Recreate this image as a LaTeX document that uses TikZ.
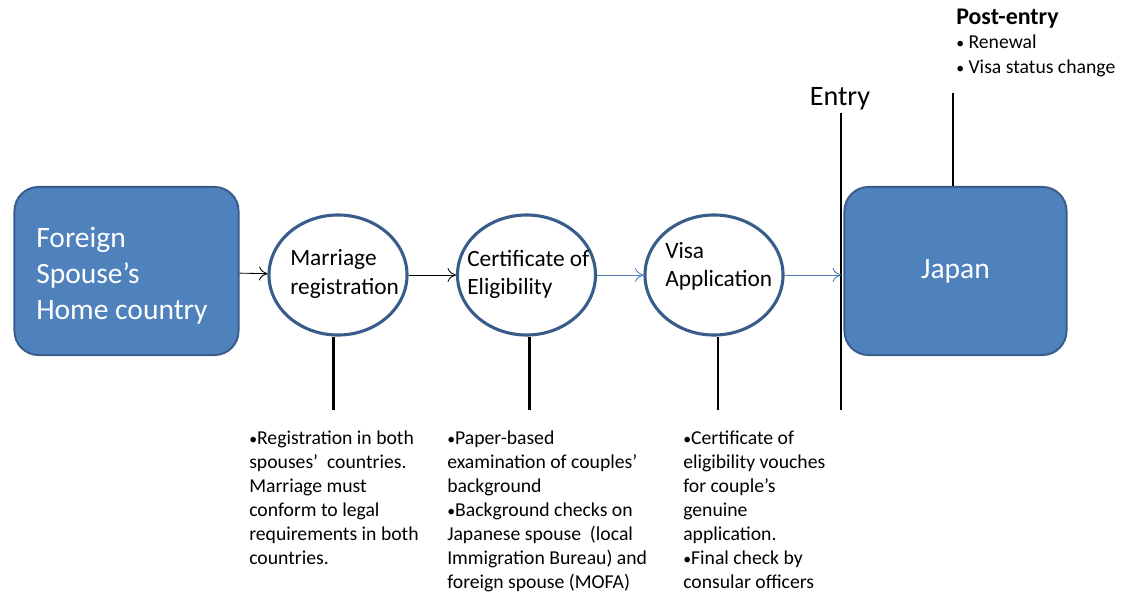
\documentclass[tikz,border=0pt]{standalone}
\usepackage{fontspec}
\setmainfont{Carlito}
\usetikzlibrary{shapes,arrows.meta,positioning}
\definecolor{boxblue}{RGB}{79,129,189}
\definecolor{edgeblue}{RGB}{56,93,138}
\definecolor{flowblue}{RGB}{74,126,187}
\newcommand{\smallbullet}{\scalebox{0.8}{•}}

\begin{document}
\begin{tikzpicture}[
    x=0.025cm, y=-0.025cm,
    place/.style={rectangle, draw=edgeblue, line width=1.4pt, fill=boxblue, rounded corners=0.6cm, minimum width=5.6cm, minimum height=4.2cm, text=white, font=\fontsize{21}{25.5}\selectfont},
    stage/.style={ellipse, draw=edgeblue, line width=2.2pt, fill=white, minimum width=3.45cm, minimum height=3cm, inner sep=0pt},
    stagetext/.style={anchor=west, inner sep=0pt, align=left, font=\fontsize{16.6}{20}\selectfont},
    note/.style={anchor=north west, inner sep=0pt, align=left, font=\fontsize{14}{17}\selectfont},
    bar/.style={line width=2pt},
    arrow/.style={-{To[length=6pt,width=10pt]}, line width=0.6pt},
    bluearrow/.style={arrow, color=flowblue}
]
\useasboundingbox (0,0) rectangle (1121,592);

% Countries at both ends
\node[place] (home) at (126.5,271) {};
\node[stagetext, text=white, font=\fontsize{21}{25.5}\selectfont] (hometext) at (36,276) {Foreign\\Spouse’s\\Home country};
\node[place, minimum width=5.55cm] (japan) at (955.5,271) {Japan};

% Procedure stages
\node[stage] (mar) at (338,275) {};
\node[stage] (cert) at (526.5,275) {};
\node[stage] (visa) at (714,275) {};
\node[stagetext] (martext) at (290,274) {Marriage\\registration};
\node[stagetext] (certtext) at (467,274) {Certificate of\\Eligibility};
\node[stagetext] (visatext) at (665,266) {Visa\\Application};

% Entry border
\coordinate (entrytop) at (841,113);
\coordinate (entrybot) at (841,410);
\draw[bar] (entrytop) -- (entrybot);
\node[font=\fontsize{20}{24}\selectfont] (entry) at (840,99) {Entry};

% Arrows
\draw[arrow] (home) -- (mar);
\draw[arrow] (mar) -- (cert);
\draw[bluearrow] (cert) -- (visa);
\draw[bluearrow] (visa.east) -- (visa.east -| entrytop);

% Stage details
\draw[bar] ([xshift=-0.12cm]mar.south) -- ([xshift=-0.12cm]mar.south |- entrybot);
\draw[bar] ([xshift=0.08cm]cert.south) -- ([xshift=0.08cm]cert.south |- entrybot);
\draw[bar] ([xshift=0.1cm]visa.south) -- ([xshift=0.1cm]visa.south |- entrybot);

\node[note] (marnote) at (249,431) {\smallbullet Registration in both\\spouses’~ countries.\\Marriage must\\conform to legal\\requirements in both\\countries.};
\node[note] (certnote) at (447,431) {\smallbullet Paper-based\\examination of couples’\\background\\\smallbullet Background checks on\\Japanese spouse~ (local\\Immigration Bureau) and\\foreign spouse (MOFA)};
\node[note] (visanote) at (683,431) {\smallbullet Certificate of\\eligibility vouches\\for couple’s\\genuine\\application.\\\smallbullet Final check by\\consular officers};

% Post-entry
\coordinate (posttop) at (953,93);
\draw[bar] (posttop) -- (japan.north -| posttop);
\node[anchor=north west, inner sep=0pt, font=\bfseries\fontsize{17}{20}\selectfont] (post) at (956,9) {Post-entry};
\node[anchor=north west, inner sep=0pt, align=left, font=\fontsize{14}{17.8}\selectfont] (postlist) at (956,35) {\smallbullet\ Renewal\\\smallbullet\ Visa status change};
\end{tikzpicture}
\end{document}
